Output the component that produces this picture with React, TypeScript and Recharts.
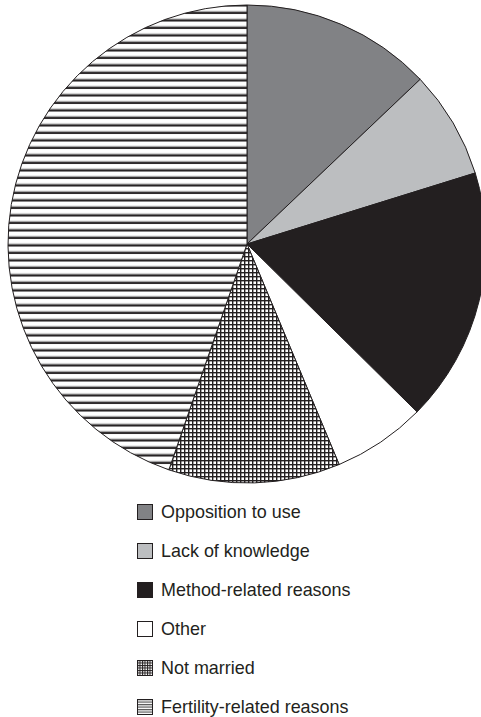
import { Cell, Pie, PieChart } from 'recharts';

const categories = [
  'Opposition to use',
  'Lack of knowledge',
  'Method-related reasons',
  'Other',
  'Not married',
  'Fertility-related reasons',
];
const shares = [12.9, 7.3, 17.2, 6.3, 11.6, 44.7];

const fills = [
  '#818285',
  '#bcbec0',
  '#231f20',
  '#ffffff',
  'url(#grid)',
  'url(#stripes)',
];
const swatchFills = [
  '#818285',
  '#bcbec0',
  '#231f20',
  '#ffffff',
  'url(#gridSmall)',
  'url(#stripesSmall)',
];

const data = categories.map((name, i) => ({ name, value: shares[i] }));

const INK = '#231f20';

function ChartLegend() {
  return (
    <div
      style={{
        position: 'absolute',
        left: 137,
        top: 493,
        fontFamily: "'Liberation Sans', Arial, sans-serif",
        fontSize: 18.5,
        color: INK,
      }}
    >
      {categories.map((name, i) => (
        <div key={name} style={{ display: 'flex', alignItems: 'center', height: 38.9 }}>
          <svg width={16} height={16} style={{ marginRight: 8, flex: 'none' }}>
            <rect x={0.5} y={0.5} width={15} height={15} fill={swatchFills[i]} stroke={INK} strokeWidth={1} />
          </svg>
          <span style={{ lineHeight: 1, display: 'inline-block', transform: 'scaleX(0.97)', transformOrigin: 'left center' }}>
            {name}
          </span>
        </div>
      ))}
    </div>
  );
}

export default function App() {
  return (
    <div style={{ position: 'absolute', left: 0, top: 0, width: 481, height: 717, background: '#fff', overflow: 'hidden' }}>
      <PieChart width={481} height={717} margin={{ top: 0, right: 0, bottom: 0, left: 0 }}>
        <defs>
          <pattern id="stripes" patternUnits="userSpaceOnUse" width={8} height={7.5}>
            <rect width={8} height={7.5} fill="#fff" />
            <rect y={3.5} width={8} height={1} fill="#9a9a9c" />
            <rect y={4.5} width={8} height={2} fill={INK} />
          </pattern>
          <pattern id="grid" patternUnits="userSpaceOnUse" width={4} height={4}>
            <rect width={4} height={4} fill="#fff" />
            <rect x={0} y={0} width={1.4} height={4} fill={INK} />
            <rect x={0} y={0} width={4} height={1.4} fill={INK} />
          </pattern>
          <pattern id="stripesSmall" patternUnits="userSpaceOnUse" width={4} height={2.5}>
            <rect width={4} height={2.5} fill="#fff" />
            <rect y={0} width={4} height={1.2} fill="#555" />
          </pattern>
          <pattern id="gridSmall" patternUnits="userSpaceOnUse" width={2.5} height={2.5}>
            <rect width={2.5} height={2.5} fill="#fff" />
            <rect width={1} height={2.5} fill={INK} />
            <rect width={2.5} height={1} fill={INK} />
          </pattern>
        </defs>
        <Pie
          data={data}
          dataKey="value"
          nameKey="name"
          cx={247}
          cy={244}
          outerRadius={239}
          startAngle={90}
          endAngle={-270}
          stroke={INK}
          strokeWidth={1}
          isAnimationActive={false}
        >
          {data.map((d, i) => (
            <Cell key={d.name} fill={fills[i]} />
          ))}
        </Pie>
      </PieChart>
      <ChartLegend />
    </div>
  );
}
